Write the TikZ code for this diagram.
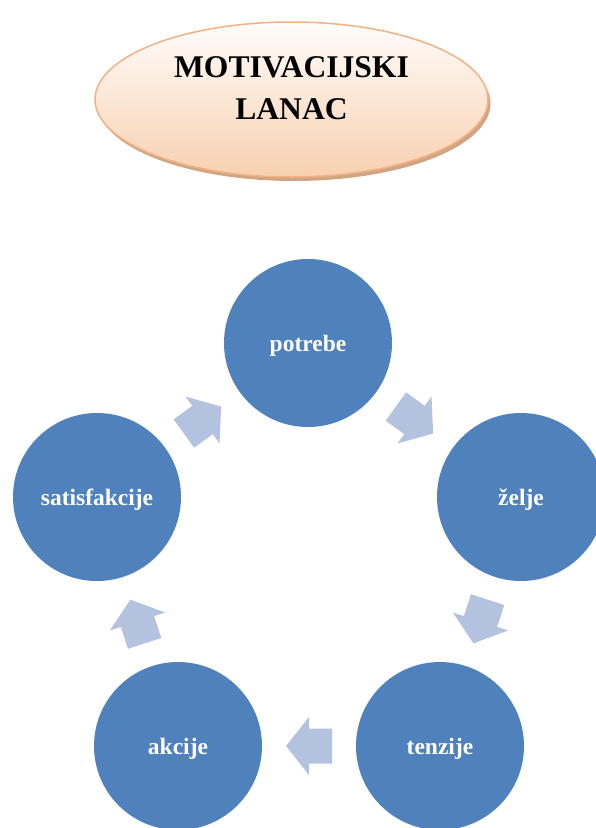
\documentclass[tikz,border=0pt]{standalone}
\usepackage{fontspec}
\setmainfont{Liberation Serif}
\usetikzlibrary{calc,shapes.geometric}
\definecolor{cblue}{HTML}{4F81BD}
\definecolor{ablue}{HTML}{B3C2DE}
\definecolor{peach}{HTML}{F8D0B0}
\definecolor{peachline}{HTML}{F4B183}
\definecolor{peachshadow}{HTML}{CFA684}
\begin{document}
\begin{tikzpicture}[x=1pt,y=-1pt,
  circ/.style={circle, fill=cblue, minimum size=168pt, inner sep=0pt, text=white,
    text height=16pt, text depth=0pt,
    font=\fontsize{23.5}{28}\selectfont\bfseries},
  arrowshape/.style={fill=ablue},
  titletext/.style={anchor=base, font=\fontsize{31.6}{40}\selectfont\bfseries}]
\useasboundingbox (0,0) rectangle (595,828);
% title ellipse with shadow
\fill[peachshadow] (294,103.5) ellipse [x radius=196.5pt, y radius=77.5pt];
\node[ellipse, minimum width=393pt, minimum height=155pt, inner sep=0pt,
  draw=peachline, line width=1.5pt, top color=peach!5, bottom color=peach] (title) at (291.5,99.5) {};
\node[titletext] (t1) at (291.5,77) {MOTIVACIJSKI};
\node[titletext] (t2) at (291.5,119) {LANAC};
% circles
\node[circ] (potrebe) at (308,343) {potrebe};
\node[circ] (zelje) at (521,497) {želje};
\node[circ] (tenzije) at (440,746) {tenzije};
\node[circ] (akcije) at (178,746) {akcije};
\node[circ] (satis) at (97,497) {satisfakcije};
% block arrows
\foreach \a/\b/\ang in {potrebe/zelje/-36, zelje/tenzije/-108, tenzije/akcije/180, akcije/satis/108, satis/potrebe/36}{
  \fill[arrowshape, shift={($(\a)!.5!(\b)$)}, rotate=\ang]
    (23,0) -- (0,29) -- (0,17.5) -- (-23,17.5) -- (-23,-17.5) -- (0,-17.5) -- (0,-29) -- cycle;
}
\end{tikzpicture}
\end{document}
